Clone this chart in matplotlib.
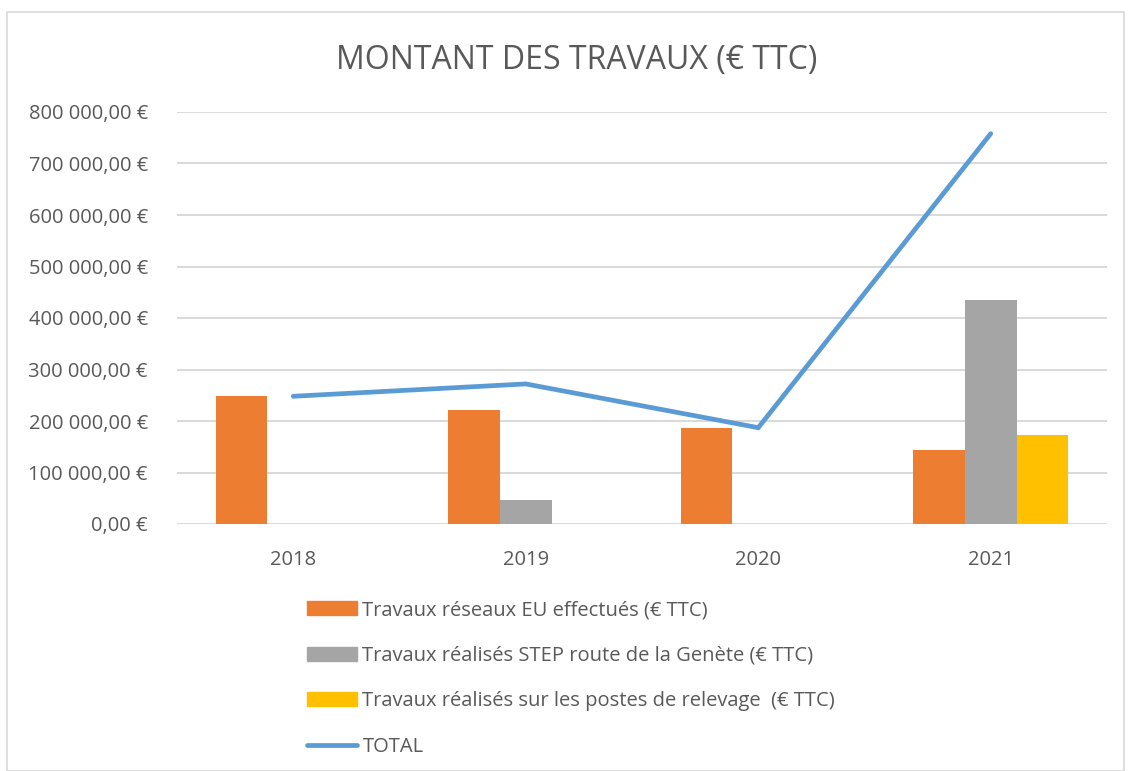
import matplotlib.pyplot as plt
import matplotlib.patches as mpatches
from matplotlib.lines import Line2D
from matplotlib.ticker import FuncFormatter
import numpy as np

plt.rcParams['font.family'] = ['Open Sans', 'DejaVu Sans']

years = ['2018', '2019', '2020', '2021']
reseaux_eu = [249000, 221000, 186000, 143000]
step_genete = [0, 46000, 0, 434000]
postes_relevage = [0, 0, 0, 173000]
total = [248000, 272000, 187000, 758000]

labels = ['Travaux réseaux EU effectués (€ TTC)',
          'Travaux réalisés STEP route de la Genète (€ TTC)',
          'Travaux réalisés sur les postes de relevage  (€ TTC)',
          'TOTAL']
colors = ['#ED7D31', '#A5A5A5', '#FFC000', '#5B9BD5']
text_col = '#595959'

fig = plt.figure(figsize=(11.34, 7.71), dpi=100)
ax = fig.add_axes([177 / 1134, 1 - 524 / 771, 930 / 1134, 412 / 771])

x = np.arange(len(years))
w = 0.222
ax.bar(x - w, reseaux_eu, w, color=colors[0], zorder=2)
ax.bar(x, step_genete, w, color=colors[1], zorder=2)
ax.bar(x + w, postes_relevage, w, color=colors[2], zorder=2)
ax.plot(x, total, color=colors[3], lw=3.4, solid_capstyle='round',
        solid_joinstyle='miter', zorder=3)

ax.set_xlim(-0.5, 3.5)
ax.set_ylim(0, 800000)
ax.set_yticks(np.arange(0, 800001, 100000))
ax.yaxis.set_major_formatter(FuncFormatter(
    lambda v, p: '{:,.2f}'.format(v).replace(',', ' ').replace('.', ',') + ' €'))
ax.set_xticks(x)
ax.set_xticklabels(years)
ax.grid(axis='y', color='#D9D9D9', lw=1.4, zorder=0)
for s in ax.spines.values():
    s.set_visible(False)
ax.tick_params(length=0, labelsize=14.5, labelcolor=text_col)
ax.tick_params(axis='y', pad=21)
ax.tick_params(axis='x', pad=19)

fig.text(577 / 1134, 1 - 60 / 771, 'MONTANT DES TRAVAUX (€ TTC)', ha='center',
         va='center', fontsize=23, color=text_col)

handles = [mpatches.Patch(color=c) for c in colors[:3]]
handles.append(Line2D([0], [0], color=colors[3], lw=3.4, solid_capstyle='round'))
fig.legend(handles, labels, loc='upper left', bbox_to_anchor=(299 / 1134, 1 - 592 / 771),
           frameon=False, fontsize=14.5, labelcolor=text_col, handlelength=2.5,
           handletextpad=0.25, labelspacing=1.27, borderaxespad=0)

fig.patches.append(mpatches.Rectangle((7 / 1134, 0), 1117 / 1134, 1 - 12 / 771,
                                      transform=fig.transFigure, fill=False,
                                      edgecolor='#D9D9D9', lw=1.2))

fig.savefig('out.png', dpi=100)
